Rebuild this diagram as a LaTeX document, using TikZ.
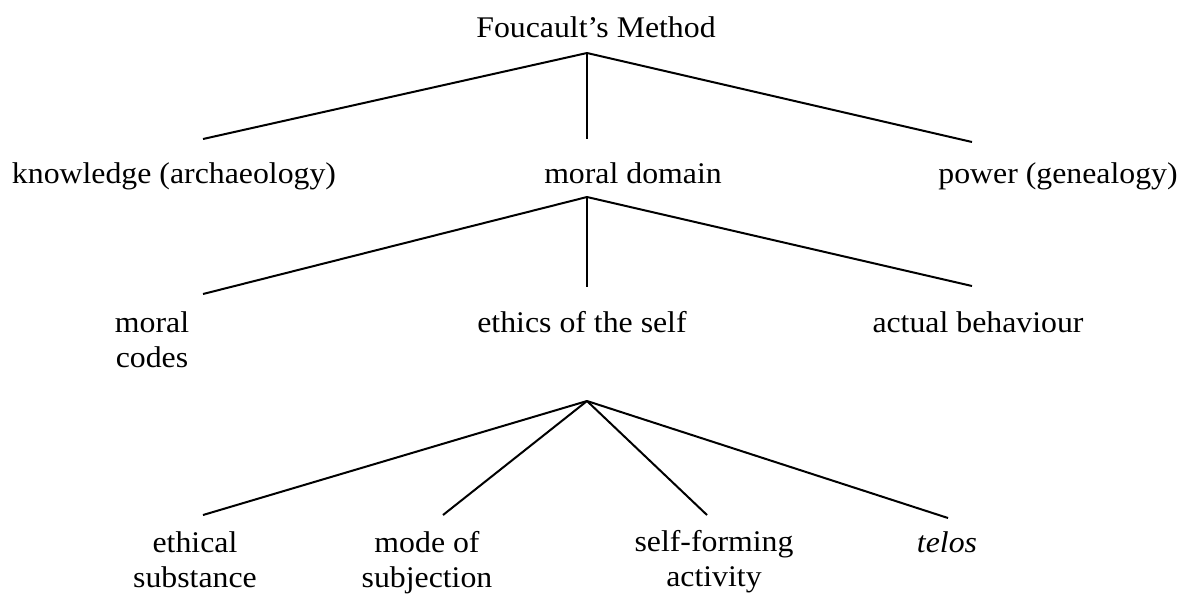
\documentclass[tikz,border=0pt]{standalone}
\usepackage{fontspec}
\setmainfont{Liberation Serif}[FakeStretch=1.06]
\begin{document}
\begin{tikzpicture}[x=0.4pt,y=-0.4pt,
  lbl/.style={font=\fontsize{12}{14}\selectfont, inner sep=0pt, anchor=base, align=center},
  branch/.style={line width=0.8pt}]
\useasboundingbox (0,0) rectangle (1185,595);

% labels (centre x, baseline y of the last line)
\node[lbl] (root)   at (596,37)  {Foucault's Method};
\node[lbl] (know)   at (174,183) {knowledge (archaeology)};
\node[lbl] (moral)  at (633,183) {moral domain};
\node[lbl] (power)  at (1058,183) {power (genealogy)};
\node[lbl] (codes)  at (152,367) {moral\\codes};
\node[lbl] (ethics) at (582,332) {ethics of the self};
\node[lbl] (behav)  at (978,332) {actual behaviour};
\node[lbl] (subst)  at (195,587) {ethical\\substance};
\node[lbl] (mode)   at (427,587) {mode of\\subjection};
\node[lbl] (selff)  at (714,586) {self-forming\\activity};
\node[lbl] (telos)  at (947,552) {\textit{telos}};

% branch points and line ends
\coordinate (a0) at (587,53);
\coordinate (k0) at (203,139);
\coordinate (m0) at (587,139);
\coordinate (p0) at (972,142);
\coordinate (a1) at (587,197);
\coordinate (c1) at (203,294);
\coordinate (e1) at (587,287);
\coordinate (b1) at (972,286);
\coordinate (a2) at (587,401);
\coordinate (s2) at (203,515);
\coordinate (o2) at (443,515);
\coordinate (f2) at (707,515);
\coordinate (t2) at (948,518);

\draw[branch] (a0) -- (k0);
\draw[branch] (a0) -- (m0);
\draw[branch] (a0) -- (p0);
\draw[branch] (a1) -- (c1);
\draw[branch] (a1) -- (e1);
\draw[branch] (a1) -- (b1);
\draw[branch] (a2) -- (s2);
\draw[branch] (a2) -- (o2);
\draw[branch] (a2) -- (f2);
\draw[branch] (a2) -- (t2);
\end{tikzpicture}
\end{document}
